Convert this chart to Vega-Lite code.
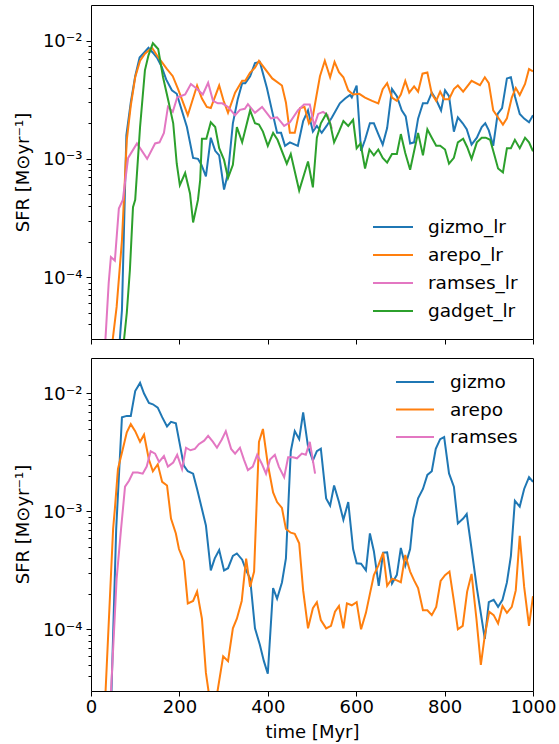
{
"$schema": "https://vega.github.io/schema/vega-lite/v6.json",
"background": "white",
"padding": {"left": 13, "top": 4, "right": 0, "bottom": 0},
"spacing": 12,
"config": {
  "view": {"stroke": "black", "strokeWidth": 1},
  "font": "DejaVu Sans",
  "axis": {"labelFont": "DejaVu Sans", "titleFont": "DejaVu Sans", "labelFontSize": 18, "titleFontSize": 18, "titleFontWeight": "normal", "labelColor": "black", "titleColor": "black", "tickColor": "black", "domain": false, "grid": false, "tickWidth": 1, "labelFlush": false},
  "legend": {"labelFont": "DejaVu Sans", "labelFontSize": 18.5, "labelColor": "black", "symbolType": "stroke", "symbolStrokeWidth": 2, "orient": "none", "padding": 0, "title": null}
},
"resolve": {"scale": {"color": "independent"}},
"vconcat": [
{
  "width": 442, "height": 334,
  "data": {"values": [
{"series":"gizmo_lr","t":60,"sfr":1.6e-5},{"series":"gizmo_lr","t":70,"sfr":5.25e-5},{"series":"gizmo_lr","t":80,"sfr":1.58e-3},{"series":"gizmo_lr","t":90,"sfr":3.0e-3},{"series":"gizmo_lr","t":100,"sfr":5.0e-3},{"series":"gizmo_lr","t":110,"sfr":7.2e-3},{"series":"gizmo_lr","t":120,"sfr":7.9e-3},{"series":"gizmo_lr","t":130,"sfr":8.7e-3},{"series":"gizmo_lr","t":140,"sfr":7.9e-3},{"series":"gizmo_lr","t":150,"sfr":7.1e-3},{"series":"gizmo_lr","t":160,"sfr":6.0e-3},{"series":"gizmo_lr","t":170,"sfr":4.7e-3},{"series":"gizmo_lr","t":183,"sfr":3.8e-3},{"series":"gizmo_lr","t":194,"sfr":3.55e-3},{"series":"gizmo_lr","t":205,"sfr":2.6e-3},{"series":"gizmo_lr","t":217,"sfr":1.86e-3},{"series":"gizmo_lr","t":231,"sfr":1.02e-3},{"series":"gizmo_lr","t":242,"sfr":1.0e-3},{"series":"gizmo_lr","t":250,"sfr":8.9e-4},{"series":"gizmo_lr","t":260,"sfr":7.1e-4},{"series":"gizmo_lr","t":271,"sfr":1.51e-3},{"series":"gizmo_lr","t":281,"sfr":1.17e-3},{"series":"gizmo_lr","t":290,"sfr":1.07e-3},{"series":"gizmo_lr","t":301,"sfr":5.5e-4},{"series":"gizmo_lr","t":310,"sfr":7.6e-4},{"series":"gizmo_lr","t":321,"sfr":2.0e-3},{"series":"gizmo_lr","t":332,"sfr":3.2e-3},{"series":"gizmo_lr","t":342,"sfr":4.37e-3},{"series":"gizmo_lr","t":349,"sfr":4.37e-3},{"series":"gizmo_lr","t":360,"sfr":5.0e-3},{"series":"gizmo_lr","t":371,"sfr":6.46e-3},{"series":"gizmo_lr","t":382,"sfr":6.6e-3},{"series":"gizmo_lr","t":398,"sfr":3.98e-3},{"series":"gizmo_lr","t":410,"sfr":2.51e-3},{"series":"gizmo_lr","t":421,"sfr":1.66e-3},{"series":"gizmo_lr","t":430,"sfr":1.66e-3},{"series":"gizmo_lr","t":439,"sfr":1.29e-3},{"series":"gizmo_lr","t":450,"sfr":1.38e-3},{"series":"gizmo_lr","t":468,"sfr":1.29e-3},{"series":"gizmo_lr","t":480,"sfr":2.09e-3},{"series":"gizmo_lr","t":491,"sfr":2.57e-3},{"series":"gizmo_lr","t":502,"sfr":1.7e-3},{"series":"gizmo_lr","t":511,"sfr":1.9e-3},{"series":"gizmo_lr","t":522,"sfr":1.66e-3},{"series":"gizmo_lr","t":533,"sfr":1.9e-3},{"series":"gizmo_lr","t":545,"sfr":2.24e-3},{"series":"gizmo_lr","t":563,"sfr":2.95e-3},{"series":"gizmo_lr","t":575,"sfr":3.24e-3},{"series":"gizmo_lr","t":586,"sfr":3.47e-3},{"series":"gizmo_lr","t":590,"sfr":3.31e-3},{"series":"gizmo_lr","t":601,"sfr":4.17e-3},{"series":"gizmo_lr","t":611,"sfr":1.17e-3},{"series":"gizmo_lr","t":620,"sfr":1.45e-3},{"series":"gizmo_lr","t":631,"sfr":2.0e-3},{"series":"gizmo_lr","t":640,"sfr":2.0e-3},{"series":"gizmo_lr","t":650,"sfr":1.62e-3},{"series":"gizmo_lr","t":660,"sfr":1.32e-3},{"series":"gizmo_lr","t":670,"sfr":1.82e-3},{"series":"gizmo_lr","t":681,"sfr":3.89e-3},{"series":"gizmo_lr","t":692,"sfr":3.39e-3},{"series":"gizmo_lr","t":703,"sfr":2.57e-3},{"series":"gizmo_lr","t":712,"sfr":2.29e-3},{"series":"gizmo_lr","t":722,"sfr":1.35e-3},{"series":"gizmo_lr","t":731,"sfr":1.38e-3},{"series":"gizmo_lr","t":740,"sfr":2.19e-3},{"series":"gizmo_lr","t":751,"sfr":2.95e-3},{"series":"gizmo_lr","t":761,"sfr":2.95e-3},{"series":"gizmo_lr","t":771,"sfr":3.63e-3},{"series":"gizmo_lr","t":781,"sfr":3.16e-3},{"series":"gizmo_lr","t":792,"sfr":2.57e-3},{"series":"gizmo_lr","t":801,"sfr":3.8e-3},{"series":"gizmo_lr","t":810,"sfr":3.39e-3},{"series":"gizmo_lr","t":821,"sfr":1.7e-3},{"series":"gizmo_lr","t":830,"sfr":2.24e-3},{"series":"gizmo_lr","t":841,"sfr":2.0e-3},{"series":"gizmo_lr","t":850,"sfr":1.78e-3},{"series":"gizmo_lr","t":861,"sfr":1.32e-3},{"series":"gizmo_lr","t":873,"sfr":1.51e-3},{"series":"gizmo_lr","t":884,"sfr":1.86e-3},{"series":"gizmo_lr","t":892,"sfr":2.0e-3},{"series":"gizmo_lr","t":900,"sfr":1.74e-3},{"series":"gizmo_lr","t":910,"sfr":1.29e-3},{"series":"gizmo_lr","t":920,"sfr":2.4e-3},{"series":"gizmo_lr","t":930,"sfr":2.69e-3},{"series":"gizmo_lr","t":941,"sfr":4.79e-3},{"series":"gizmo_lr","t":950,"sfr":4.9e-3},{"series":"gizmo_lr","t":959,"sfr":3.39e-3},{"series":"gizmo_lr","t":970,"sfr":2.4e-3},{"series":"gizmo_lr","t":980,"sfr":2.19e-3},{"series":"gizmo_lr","t":991,"sfr":2.04e-3},{"series":"gizmo_lr","t":1000,"sfr":2.34e-3},
{"series":"arepo_lr","t":40,"sfr":1.6e-5},{"series":"arepo_lr","t":50,"sfr":3.16e-5},{"series":"arepo_lr","t":58,"sfr":5.6e-5},{"series":"arepo_lr","t":70,"sfr":2.04e-4},{"series":"arepo_lr","t":81,"sfr":1.45e-3},{"series":"arepo_lr","t":90,"sfr":2.82e-3},{"series":"arepo_lr","t":100,"sfr":4.9e-3},{"series":"arepo_lr","t":111,"sfr":6.76e-3},{"series":"arepo_lr","t":122,"sfr":7.76e-3},{"series":"arepo_lr","t":138,"sfr":8.7e-3},{"series":"arepo_lr","t":152,"sfr":7.24e-3},{"series":"arepo_lr","t":172,"sfr":5.75e-3},{"series":"arepo_lr","t":185,"sfr":5.0e-3},{"series":"arepo_lr","t":197,"sfr":3.89e-3},{"series":"arepo_lr","t":219,"sfr":2.34e-3},{"series":"arepo_lr","t":240,"sfr":4.17e-3},{"series":"arepo_lr","t":251,"sfr":3.24e-3},{"series":"arepo_lr","t":262,"sfr":2.75e-3},{"series":"arepo_lr","t":271,"sfr":2.69e-3},{"series":"arepo_lr","t":290,"sfr":4.17e-3},{"series":"arepo_lr","t":300,"sfr":3.1e-3},{"series":"arepo_lr","t":310,"sfr":2.45e-3},{"series":"arepo_lr","t":326,"sfr":3.63e-3},{"series":"arepo_lr","t":342,"sfr":4.57e-3},{"series":"arepo_lr","t":349,"sfr":4.57e-3},{"series":"arepo_lr","t":360,"sfr":5.37e-3},{"series":"arepo_lr","t":371,"sfr":5.9e-3},{"series":"arepo_lr","t":380,"sfr":6.76e-3},{"series":"arepo_lr","t":386,"sfr":6.3e-3},{"series":"arepo_lr","t":410,"sfr":4.79e-3},{"series":"arepo_lr","t":432,"sfr":4.17e-3},{"series":"arepo_lr","t":441,"sfr":3.0e-3},{"series":"arepo_lr","t":450,"sfr":1.66e-3},{"series":"arepo_lr","t":461,"sfr":1.66e-3},{"series":"arepo_lr","t":473,"sfr":2.69e-3},{"series":"arepo_lr","t":483,"sfr":2.75e-3},{"series":"arepo_lr","t":493,"sfr":2.0e-3},{"series":"arepo_lr","t":502,"sfr":2.3e-3},{"series":"arepo_lr","t":510,"sfr":3.4e-3},{"series":"arepo_lr","t":518,"sfr":5.0e-3},{"series":"arepo_lr","t":529,"sfr":6.76e-3},{"series":"arepo_lr","t":541,"sfr":4.9e-3},{"series":"arepo_lr","t":551,"sfr":6.6e-3},{"series":"arepo_lr","t":561,"sfr":5.4e-3},{"series":"arepo_lr","t":571,"sfr":4.9e-3},{"series":"arepo_lr","t":582,"sfr":3.8e-3},{"series":"arepo_lr","t":593,"sfr":3.5e-3},{"series":"arepo_lr","t":607,"sfr":3.55e-3},{"series":"arepo_lr","t":620,"sfr":3.3e-3},{"series":"arepo_lr","t":636,"sfr":3.09e-3},{"series":"arepo_lr","t":650,"sfr":2.95e-3},{"series":"arepo_lr","t":660,"sfr":3.89e-3},{"series":"arepo_lr","t":670,"sfr":4.37e-3},{"series":"arepo_lr","t":681,"sfr":3.3e-3},{"series":"arepo_lr","t":692,"sfr":3.09e-3},{"series":"arepo_lr","t":701,"sfr":3.5e-3},{"series":"arepo_lr","t":711,"sfr":4.57e-3},{"series":"arepo_lr","t":720,"sfr":3.63e-3},{"series":"arepo_lr","t":731,"sfr":4.1e-3},{"series":"arepo_lr","t":740,"sfr":3.7e-3},{"series":"arepo_lr","t":750,"sfr":5.25e-3},{"series":"arepo_lr","t":761,"sfr":5.37e-3},{"series":"arepo_lr","t":771,"sfr":3.55e-3},{"series":"arepo_lr","t":781,"sfr":3.09e-3},{"series":"arepo_lr","t":790,"sfr":3.7e-3},{"series":"arepo_lr","t":799,"sfr":3.2e-3},{"series":"arepo_lr","t":810,"sfr":3.2e-3},{"series":"arepo_lr","t":821,"sfr":3.89e-3},{"series":"arepo_lr","t":830,"sfr":4.17e-3},{"series":"arepo_lr","t":842,"sfr":3.7e-3},{"series":"arepo_lr","t":861,"sfr":4.57e-3},{"series":"arepo_lr","t":880,"sfr":4.2e-3},{"series":"arepo_lr","t":891,"sfr":4.9e-3},{"series":"arepo_lr","t":900,"sfr":4.37e-3},{"series":"arepo_lr","t":910,"sfr":2.57e-3},{"series":"arepo_lr","t":921,"sfr":2.24e-3},{"series":"arepo_lr","t":932,"sfr":1.95e-3},{"series":"arepo_lr","t":941,"sfr":2.2e-3},{"series":"arepo_lr","t":952,"sfr":3.3e-3},{"series":"arepo_lr","t":961,"sfr":3.98e-3},{"series":"arepo_lr","t":970,"sfr":3.47e-3},{"series":"arepo_lr","t":982,"sfr":4.3e-3},{"series":"arepo_lr","t":991,"sfr":5.75e-3},{"series":"arepo_lr","t":1000,"sfr":5.5e-3},
{"series":"ramses_lr","t":30,"sfr":2e-5},{"series":"ramses_lr","t":40,"sfr":8.9e-5},{"series":"ramses_lr","t":45,"sfr":1.48e-4},{"series":"ramses_lr","t":54,"sfr":1.38e-4},{"series":"ramses_lr","t":63,"sfr":3.8e-4},{"series":"ramses_lr","t":72,"sfr":4.5e-4},{"series":"ramses_lr","t":84,"sfr":1.02e-3},{"series":"ramses_lr","t":104,"sfr":1.35e-3},{"series":"ramses_lr","t":127,"sfr":1.0e-3},{"series":"ramses_lr","t":145,"sfr":1.35e-3},{"series":"ramses_lr","t":155,"sfr":1.38e-3},{"series":"ramses_lr","t":165,"sfr":1.66e-3},{"series":"ramses_lr","t":174,"sfr":2.75e-3},{"series":"ramses_lr","t":185,"sfr":2.5e-3},{"series":"ramses_lr","t":195,"sfr":3.3e-3},{"series":"ramses_lr","t":213,"sfr":3.5e-3},{"series":"ramses_lr","t":226,"sfr":4.3e-3},{"series":"ramses_lr","t":240,"sfr":3.9e-3},{"series":"ramses_lr","t":253,"sfr":3.5e-3},{"series":"ramses_lr","t":265,"sfr":4.4e-3},{"series":"ramses_lr","t":276,"sfr":3.1e-3},{"series":"ramses_lr","t":287,"sfr":2.95e-3},{"series":"ramses_lr","t":297,"sfr":2.95e-3},{"series":"ramses_lr","t":310,"sfr":2.75e-3},{"series":"ramses_lr","t":326,"sfr":2.34e-3},{"series":"ramses_lr","t":337,"sfr":2.6e-3},{"series":"ramses_lr","t":348,"sfr":2.65e-3},{"series":"ramses_lr","t":355,"sfr":2.9e-3},{"series":"ramses_lr","t":371,"sfr":2.45e-3},{"series":"ramses_lr","t":387,"sfr":2.75e-3},{"series":"ramses_lr","t":407,"sfr":2.2e-3},{"series":"ramses_lr","t":421,"sfr":2.25e-3},{"series":"ramses_lr","t":437,"sfr":1.9e-3},{"series":"ramses_lr","t":450,"sfr":2.04e-3},{"series":"ramses_lr","t":468,"sfr":2.57e-3},{"series":"ramses_lr","t":482,"sfr":2.88e-3},{"series":"ramses_lr","t":495,"sfr":2.88e-3},{"series":"ramses_lr","t":505,"sfr":1.9e-3},{"series":"ramses_lr","t":514,"sfr":2.4e-3},{"series":"ramses_lr","t":525,"sfr":2.5e-3},{"series":"ramses_lr","t":535,"sfr":2.35e-3},{"series":"ramses_lr","t":545,"sfr":1.8e-3},
{"series":"gadget_lr","t":70,"sfr":2e-5},{"series":"gadget_lr","t":81,"sfr":5.0e-5},{"series":"gadget_lr","t":88,"sfr":1.15e-4},{"series":"gadget_lr","t":95,"sfr":3.9e-4},{"series":"gadget_lr","t":100,"sfr":4.5e-4},{"series":"gadget_lr","t":111,"sfr":1.86e-3},{"series":"gadget_lr","t":122,"sfr":5.6e-3},{"series":"gadget_lr","t":130,"sfr":7.5e-3},{"series":"gadget_lr","t":140,"sfr":9.5e-3},{"series":"gadget_lr","t":152,"sfr":8.5e-3},{"series":"gadget_lr","t":163,"sfr":4.9e-3},{"series":"gadget_lr","t":175,"sfr":3.1e-3},{"series":"gadget_lr","t":186,"sfr":2.0e-3},{"series":"gadget_lr","t":194,"sfr":9.1e-4},{"series":"gadget_lr","t":201,"sfr":6.0e-4},{"series":"gadget_lr","t":213,"sfr":7.6e-4},{"series":"gadget_lr","t":224,"sfr":5.1e-4},{"series":"gadget_lr","t":231,"sfr":2.9e-4},{"series":"gadget_lr","t":242,"sfr":4.5e-4},{"series":"gadget_lr","t":247,"sfr":6.6e-4},{"series":"gadget_lr","t":251,"sfr":1.48e-3},{"series":"gadget_lr","t":261,"sfr":1.48e-3},{"series":"gadget_lr","t":271,"sfr":2.04e-3},{"series":"gadget_lr","t":281,"sfr":1.86e-3},{"series":"gadget_lr","t":290,"sfr":1.23e-3},{"series":"gadget_lr","t":301,"sfr":9.8e-4},{"series":"gadget_lr","t":310,"sfr":6.9e-4},{"series":"gadget_lr","t":321,"sfr":8.9e-4},{"series":"gadget_lr","t":330,"sfr":1.86e-3},{"series":"gadget_lr","t":342,"sfr":1.38e-3},{"series":"gadget_lr","t":360,"sfr":2.57e-3},{"series":"gadget_lr","t":371,"sfr":2.0e-3},{"series":"gadget_lr","t":380,"sfr":1.95e-3},{"series":"gadget_lr","t":389,"sfr":1.7e-3},{"series":"gadget_lr","t":400,"sfr":1.29e-3},{"series":"gadget_lr","t":412,"sfr":1.66e-3},{"series":"gadget_lr","t":422,"sfr":1.45e-3},{"series":"gadget_lr","t":443,"sfr":9.1e-4},{"series":"gadget_lr","t":452,"sfr":1.1e-3},{"series":"gadget_lr","t":471,"sfr":5.4e-4},{"series":"gadget_lr","t":491,"sfr":9.5e-4},{"series":"gadget_lr","t":502,"sfr":5.75e-4},{"series":"gadget_lr","t":511,"sfr":1.51e-3},{"series":"gadget_lr","t":520,"sfr":2.0e-3},{"series":"gadget_lr","t":532,"sfr":2.4e-3},{"series":"gadget_lr","t":541,"sfr":2.0e-3},{"series":"gadget_lr","t":550,"sfr":1.38e-3},{"series":"gadget_lr","t":561,"sfr":1.7e-3},{"series":"gadget_lr","t":571,"sfr":2.09e-3},{"series":"gadget_lr","t":582,"sfr":1.9e-3},{"series":"gadget_lr","t":593,"sfr":2.14e-3},{"series":"gadget_lr","t":601,"sfr":1.23e-3},{"series":"gadget_lr","t":610,"sfr":1.35e-3},{"series":"gadget_lr","t":620,"sfr":8.3e-4},{"series":"gadget_lr","t":630,"sfr":1.2e-3},{"series":"gadget_lr","t":640,"sfr":1.07e-3},{"series":"gadget_lr","t":650,"sfr":1.2e-3},{"series":"gadget_lr","t":660,"sfr":1.02e-3},{"series":"gadget_lr","t":670,"sfr":9.3e-4},{"series":"gadget_lr","t":681,"sfr":1.1e-3},{"series":"gadget_lr","t":692,"sfr":1.1e-3},{"series":"gadget_lr","t":701,"sfr":1.62e-3},{"series":"gadget_lr","t":711,"sfr":1.12e-3},{"series":"gadget_lr","t":722,"sfr":8.1e-4},{"series":"gadget_lr","t":733,"sfr":1.26e-3},{"series":"gadget_lr","t":740,"sfr":1.66e-3},{"series":"gadget_lr","t":751,"sfr":1.07e-3},{"series":"gadget_lr","t":761,"sfr":1.78e-3},{"series":"gadget_lr","t":771,"sfr":1.51e-3},{"series":"gadget_lr","t":781,"sfr":1.29e-3},{"series":"gadget_lr","t":790,"sfr":1.29e-3},{"series":"gadget_lr","t":801,"sfr":1.2e-3},{"series":"gadget_lr","t":810,"sfr":9.1e-4},{"series":"gadget_lr","t":821,"sfr":1.02e-3},{"series":"gadget_lr","t":830,"sfr":1.38e-3},{"series":"gadget_lr","t":842,"sfr":1.48e-3},{"series":"gadget_lr","t":851,"sfr":1.26e-3},{"series":"gadget_lr","t":861,"sfr":1.0e-3},{"series":"gadget_lr","t":873,"sfr":1.38e-3},{"series":"gadget_lr","t":884,"sfr":1.51e-3},{"series":"gadget_lr","t":893,"sfr":1.51e-3},{"series":"gadget_lr","t":903,"sfr":1.45e-3},{"series":"gadget_lr","t":912,"sfr":1.1e-3},{"series":"gadget_lr","t":921,"sfr":8.3e-4},{"series":"gadget_lr","t":932,"sfr":7.7e-4},{"series":"gadget_lr","t":941,"sfr":1.23e-3},{"series":"gadget_lr","t":950,"sfr":1.23e-3},{"series":"gadget_lr","t":959,"sfr":1.45e-3},{"series":"gadget_lr","t":970,"sfr":1.23e-3},{"series":"gadget_lr","t":982,"sfr":1.51e-3},{"series":"gadget_lr","t":991,"sfr":1.38e-3},{"series":"gadget_lr","t":1000,"sfr":1.16e-3}
  ]},
  "mark": {"type": "line", "strokeWidth": 2, "clip": true},
  "encoding": {
    "x": {"field": "t", "type": "quantitative", "scale": {"domain": [0, 1000], "nice": false},
      "axis": {"values": [0, 200, 400, 600, 800, 1000], "labels": false, "title": null, "tickSize": 5}},
    "y": {"field": "sfr", "type": "quantitative", "scale": {"type": "log", "domain": [3e-5, 0.02], "nice": false},
      "axis": {"values": [4e-5,5e-5,6e-5,7e-5,8e-5,9e-5,1e-4,2e-4,3e-4,4e-4,5e-4,6e-4,7e-4,8e-4,9e-4,1e-3,2e-3,3e-3,4e-3,5e-3,6e-3,7e-3,8e-3,9e-3,1e-2],
        "labelExpr": "datum.value === 0.01 ? '10⁻²' : datum.value === 0.001 ? '10⁻³' : datum.value === 0.0001 ? '10⁻⁴' : ''",
        "tickSize": {"condition": {"test": "datum.value === 0.01 || datum.value === 0.001 || datum.value === 0.0001", "value": 5}, "value": 3},
        "labelPadding": 4, "labelOffset": 1,
        "title": "SFR [M⊙yr⁻¹]", "titleX": -63, "titleY": 167, "titleBaseline": "alphabetic", "titleAlign": "center", "titleAngle": -90}},
    "color": {"field": "series", "type": "nominal",
      "scale": {"domain": ["gizmo_lr", "arepo_lr", "ramses_lr", "gadget_lr"], "range": ["#1f77b4", "#ff7f0e", "#e377c2", "#2ca02c"]},
      "legend": {"legendX": 281, "legendY": 212, "symbolSize": 1600, "labelOffset": 14, "clipHeight": 20, "rowPadding": 8}}
  }
},
{
  "width": 442, "height": 333,
  "data": {"values": [
{"series":"gizmo","t":45,"sfr":2e-5},{"series":"gizmo","t":57,"sfr":7.1e-4},{"series":"gizmo","t":70,"sfr":6.3e-3},{"series":"gizmo","t":81,"sfr":6.46e-3},{"series":"gizmo","t":90,"sfr":6.46e-3},{"series":"gizmo","t":100,"sfr":1.05e-2},{"series":"gizmo","t":111,"sfr":1.23e-2},{"series":"gizmo","t":120,"sfr":1.0e-2},{"series":"gizmo","t":131,"sfr":8.3e-3},{"series":"gizmo","t":140,"sfr":8.1e-3},{"series":"gizmo","t":151,"sfr":7.6e-3},{"series":"gizmo","t":161,"sfr":6.3e-3},{"series":"gizmo","t":172,"sfr":5.25e-3},{"series":"gizmo","t":181,"sfr":5.75e-3},{"series":"gizmo","t":192,"sfr":5.6e-3},{"series":"gizmo","t":201,"sfr":3.7e-3},{"series":"gizmo","t":210,"sfr":2.45e-3},{"series":"gizmo","t":219,"sfr":2.19e-3},{"series":"gizmo","t":231,"sfr":2.09e-3},{"series":"gizmo","t":240,"sfr":1.55e-3},{"series":"gizmo","t":251,"sfr":1.05e-3},{"series":"gizmo","t":260,"sfr":7.6e-4},{"series":"gizmo","t":271,"sfr":3.16e-4},{"series":"gizmo","t":280,"sfr":4.0e-4},{"series":"gizmo","t":290,"sfr":4.7e-4},{"series":"gizmo","t":301,"sfr":3.16e-4},{"series":"gizmo","t":310,"sfr":3.3e-4},{"series":"gizmo","t":321,"sfr":4.2e-4},{"series":"gizmo","t":330,"sfr":4.4e-4},{"series":"gizmo","t":342,"sfr":3.9e-4},{"series":"gizmo","t":351,"sfr":3.16e-4},{"series":"gizmo","t":360,"sfr":2.7e-4},{"series":"gizmo","t":371,"sfr":1.02e-4},{"series":"gizmo","t":382,"sfr":7.4e-5},{"series":"gizmo","t":391,"sfr":5.4e-5},{"series":"gizmo","t":400,"sfr":4.2e-5},{"series":"gizmo","t":412,"sfr":2.24e-4},{"series":"gizmo","t":421,"sfr":1.82e-4},{"series":"gizmo","t":432,"sfr":2.5e-4},{"series":"gizmo","t":441,"sfr":4.0e-4},{"series":"gizmo","t":452,"sfr":3.24e-3},{"series":"gizmo","t":461,"sfr":4.8e-3},{"series":"gizmo","t":471,"sfr":4.1e-3},{"series":"gizmo","t":480,"sfr":6.9e-3},{"series":"gizmo","t":491,"sfr":3.55e-3},{"series":"gizmo","t":502,"sfr":2.7e-3},{"series":"gizmo","t":511,"sfr":3.24e-3},{"series":"gizmo","t":520,"sfr":3.4e-3},{"series":"gizmo","t":532,"sfr":1.29e-3},{"series":"gizmo","t":541,"sfr":1.12e-3},{"series":"gizmo","t":550,"sfr":1.66e-3},{"series":"gizmo","t":561,"sfr":1.2e-3},{"series":"gizmo","t":571,"sfr":8.5e-4},{"series":"gizmo","t":582,"sfr":1.2e-3},{"series":"gizmo","t":593,"sfr":4.8e-4},{"series":"gizmo","t":601,"sfr":3.63e-4},{"series":"gizmo","t":611,"sfr":3.6e-4},{"series":"gizmo","t":622,"sfr":3.16e-4},{"series":"gizmo","t":631,"sfr":6.5e-4},{"series":"gizmo","t":640,"sfr":4.6e-4},{"series":"gizmo","t":651,"sfr":2.34e-4},{"series":"gizmo","t":661,"sfr":4.47e-4},{"series":"gizmo","t":670,"sfr":4.5e-4},{"series":"gizmo","t":681,"sfr":2.45e-4},{"series":"gizmo","t":692,"sfr":2.9e-4},{"series":"gizmo","t":701,"sfr":4.9e-4},{"series":"gizmo","t":711,"sfr":3.47e-4},{"series":"gizmo","t":722,"sfr":4.8e-4},{"series":"gizmo","t":729,"sfr":8.7e-4},{"series":"gizmo","t":740,"sfr":1.29e-3},{"series":"gizmo","t":751,"sfr":1.55e-3},{"series":"gizmo","t":761,"sfr":2.04e-3},{"series":"gizmo","t":771,"sfr":2.19e-3},{"series":"gizmo","t":780,"sfr":3.4e-3},{"series":"gizmo","t":790,"sfr":4.1e-3},{"series":"gizmo","t":799,"sfr":4.27e-3},{"series":"gizmo","t":810,"sfr":2.1e-3},{"series":"gizmo","t":821,"sfr":1.62e-3},{"series":"gizmo","t":830,"sfr":7.9e-4},{"series":"gizmo","t":842,"sfr":8.7e-4},{"series":"gizmo","t":850,"sfr":9.5e-4},{"series":"gizmo","t":861,"sfr":4.8e-4},{"series":"gizmo","t":873,"sfr":2.24e-4},{"series":"gizmo","t":891,"sfr":8.3e-5},{"series":"gizmo","t":900,"sfr":1.7e-4},{"series":"gizmo","t":911,"sfr":1.78e-4},{"series":"gizmo","t":921,"sfr":1.55e-4},{"series":"gizmo","t":931,"sfr":1.78e-4},{"series":"gizmo","t":941,"sfr":2.5e-4},{"series":"gizmo","t":950,"sfr":4.2e-4},{"series":"gizmo","t":959,"sfr":1.23e-3},{"series":"gizmo","t":970,"sfr":1.1e-3},{"series":"gizmo","t":980,"sfr":1.55e-3},{"series":"gizmo","t":991,"sfr":1.95e-3},{"series":"gizmo","t":1000,"sfr":1.78e-3},
{"series":"arepo","t":32,"sfr":2.5e-5},{"series":"arepo","t":50,"sfr":7.1e-4},{"series":"arepo","t":54,"sfr":1.05e-3},{"series":"arepo","t":61,"sfr":2.29e-3},{"series":"arepo","t":72,"sfr":3.39e-3},{"series":"arepo","t":81,"sfr":4.68e-3},{"series":"arepo","t":90,"sfr":5.5e-3},{"series":"arepo","t":100,"sfr":4.79e-3},{"series":"arepo","t":111,"sfr":3.89e-3},{"series":"arepo","t":120,"sfr":4.47e-3},{"series":"arepo","t":131,"sfr":2.75e-3},{"series":"arepo","t":140,"sfr":2.19e-3},{"series":"arepo","t":151,"sfr":2.51e-3},{"series":"arepo","t":161,"sfr":1.78e-3},{"series":"arepo","t":172,"sfr":1.66e-3},{"series":"arepo","t":181,"sfr":8.7e-4},{"series":"arepo","t":192,"sfr":6.5e-4},{"series":"arepo","t":199,"sfr":4.8e-4},{"series":"arepo","t":210,"sfr":3.8e-4},{"series":"arepo","t":219,"sfr":1.66e-4},{"series":"arepo","t":231,"sfr":1.74e-4},{"series":"arepo","t":240,"sfr":2.09e-4},{"series":"arepo","t":251,"sfr":1.23e-4},{"series":"arepo","t":260,"sfr":4.27e-5},{"series":"arepo","t":267,"sfr":2.8e-5},{"series":"arepo","t":276,"sfr":1.5e-5},{"series":"arepo","t":285,"sfr":2.8e-5},{"series":"arepo","t":299,"sfr":5.9e-5},{"series":"arepo","t":310,"sfr":5.37e-5},{"series":"arepo","t":321,"sfr":1.02e-4},{"series":"arepo","t":330,"sfr":1.23e-4},{"series":"arepo","t":341,"sfr":1.74e-4},{"series":"arepo","t":351,"sfr":3.98e-4},{"series":"arepo","t":360,"sfr":2.29e-4},{"series":"arepo","t":369,"sfr":3.09e-4},{"series":"arepo","t":380,"sfr":3.89e-3},{"series":"arepo","t":389,"sfr":5.0e-3},{"series":"arepo","t":400,"sfr":2.51e-3},{"series":"arepo","t":412,"sfr":1.45e-3},{"series":"arepo","t":421,"sfr":1.2e-3},{"series":"arepo","t":432,"sfr":1.07e-3},{"series":"arepo","t":441,"sfr":7.1e-4},{"series":"arepo","t":452,"sfr":6.6e-4},{"series":"arepo","t":461,"sfr":6.46e-4},{"series":"arepo","t":471,"sfr":5.37e-4},{"series":"arepo","t":480,"sfr":2.14e-4},{"series":"arepo","t":491,"sfr":1.02e-4},{"series":"arepo","t":502,"sfr":1.51e-4},{"series":"arepo","t":511,"sfr":1.7e-4},{"series":"arepo","t":520,"sfr":1.2e-4},{"series":"arepo","t":532,"sfr":1.02e-4},{"series":"arepo","t":543,"sfr":1.07e-4},{"series":"arepo","t":552,"sfr":1.41e-4},{"series":"arepo","t":561,"sfr":1.58e-4},{"series":"arepo","t":571,"sfr":1.02e-4},{"series":"arepo","t":579,"sfr":1.66e-4},{"series":"arepo","t":590,"sfr":1.6e-4},{"series":"arepo","t":601,"sfr":1.7e-4},{"series":"arepo","t":611,"sfr":1.0e-4},{"series":"arepo","t":622,"sfr":1.38e-4},{"series":"arepo","t":631,"sfr":2.0e-4},{"series":"arepo","t":640,"sfr":2.88e-4},{"series":"arepo","t":650,"sfr":3.47e-4},{"series":"arepo","t":661,"sfr":4.47e-4},{"series":"arepo","t":670,"sfr":2.34e-4},{"series":"arepo","t":681,"sfr":2.69e-4},{"series":"arepo","t":692,"sfr":2.6e-4},{"series":"arepo","t":701,"sfr":2.51e-4},{"series":"arepo","t":711,"sfr":4.27e-4},{"series":"arepo","t":722,"sfr":3.09e-4},{"series":"arepo","t":731,"sfr":2.6e-4},{"series":"arepo","t":740,"sfr":2.24e-4},{"series":"arepo","t":751,"sfr":1.45e-4},{"series":"arepo","t":761,"sfr":1.45e-4},{"series":"arepo","t":771,"sfr":1.32e-4},{"series":"arepo","t":781,"sfr":1.55e-4},{"series":"arepo","t":791,"sfr":2.57e-4},{"series":"arepo","t":801,"sfr":2.88e-4},{"series":"arepo","t":811,"sfr":3.09e-4},{"series":"arepo","t":821,"sfr":1.74e-4},{"series":"arepo","t":830,"sfr":1.0e-4},{"series":"arepo","t":841,"sfr":1.07e-4},{"series":"arepo","t":851,"sfr":2.09e-4},{"series":"arepo","t":861,"sfr":2.95e-4},{"series":"arepo","t":872,"sfr":1.23e-4},{"series":"arepo","t":882,"sfr":5.0e-5},{"series":"arepo","t":891,"sfr":8.9e-5},{"series":"arepo","t":901,"sfr":1.41e-4},{"series":"arepo","t":911,"sfr":1.32e-4},{"series":"arepo","t":921,"sfr":1.12e-4},{"series":"arepo","t":931,"sfr":1.58e-4},{"series":"arepo","t":941,"sfr":1.38e-4},{"series":"arepo","t":952,"sfr":1.55e-4},{"series":"arepo","t":961,"sfr":2.14e-4},{"series":"arepo","t":970,"sfr":6.2e-4},{"series":"arepo","t":980,"sfr":2.29e-4},{"series":"arepo","t":991,"sfr":1.07e-4},{"series":"arepo","t":1000,"sfr":1.91e-4},
{"series":"ramses","t":43,"sfr":2e-5},{"series":"ramses","t":58,"sfr":2.69e-4},{"series":"ramses","t":68,"sfr":7.1e-4},{"series":"ramses","t":77,"sfr":1.62e-3},{"series":"ramses","t":86,"sfr":1.82e-3},{"series":"ramses","t":95,"sfr":2.14e-3},{"series":"ramses","t":106,"sfr":2.14e-3},{"series":"ramses","t":117,"sfr":2.09e-3},{"series":"ramses","t":126,"sfr":2.4e-3},{"series":"ramses","t":135,"sfr":3.24e-3},{"series":"ramses","t":145,"sfr":3.09e-3},{"series":"ramses","t":154,"sfr":2.63e-3},{"series":"ramses","t":165,"sfr":2.95e-3},{"series":"ramses","t":174,"sfr":2.4e-3},{"series":"ramses","t":186,"sfr":2.6e-3},{"series":"ramses","t":195,"sfr":3.02e-3},{"series":"ramses","t":206,"sfr":2.29e-3},{"series":"ramses","t":215,"sfr":3.47e-3},{"series":"ramses","t":225,"sfr":3.3e-3},{"series":"ramses","t":235,"sfr":3.39e-3},{"series":"ramses","t":244,"sfr":3.72e-3},{"series":"ramses","t":256,"sfr":3.98e-3},{"series":"ramses","t":265,"sfr":4.37e-3},{"series":"ramses","t":276,"sfr":3.89e-3},{"series":"ramses","t":285,"sfr":3.47e-3},{"series":"ramses","t":296,"sfr":4.07e-3},{"series":"ramses","t":305,"sfr":4.79e-3},{"series":"ramses","t":317,"sfr":3.39e-3},{"series":"ramses","t":326,"sfr":3.09e-3},{"series":"ramses","t":337,"sfr":3.47e-3},{"series":"ramses","t":346,"sfr":2.75e-3},{"series":"ramses","t":355,"sfr":2.24e-3},{"series":"ramses","t":366,"sfr":2.4e-3},{"series":"ramses","t":376,"sfr":3.02e-3},{"series":"ramses","t":387,"sfr":2.51e-3},{"series":"ramses","t":396,"sfr":2.09e-3},{"series":"ramses","t":405,"sfr":2.75e-3},{"series":"ramses","t":416,"sfr":3.02e-3},{"series":"ramses","t":425,"sfr":2.4e-3},{"series":"ramses","t":437,"sfr":1.95e-3},{"series":"ramses","t":446,"sfr":2.88e-3},{"series":"ramses","t":457,"sfr":2.88e-3},{"series":"ramses","t":466,"sfr":2.82e-3},{"series":"ramses","t":477,"sfr":3.09e-3},{"series":"ramses","t":486,"sfr":3.02e-3},{"series":"ramses","t":495,"sfr":3.89e-3},{"series":"ramses","t":507,"sfr":2.09e-3}
  ]},
  "mark": {"type": "line", "strokeWidth": 2, "clip": true},
  "encoding": {
    "x": {"field": "t", "type": "quantitative", "scale": {"domain": [0, 1000], "nice": false},
      "axis": {"values": [0, 200, 400, 600, 800, 1000], "format": "d", "tickSize": 5, "labelPadding": 2, "title": "time [Myr]", "titleX": 221, "titleY": 46, "titleBaseline": "alphabetic", "titleAlign": "center"}},
    "y": {"field": "sfr", "type": "quantitative", "scale": {"type": "log", "domain": [3e-5, 0.02], "nice": false},
      "axis": {"values": [4e-5,5e-5,6e-5,7e-5,8e-5,9e-5,1e-4,2e-4,3e-4,4e-4,5e-4,6e-4,7e-4,8e-4,9e-4,1e-3,2e-3,3e-3,4e-3,5e-3,6e-3,7e-3,8e-3,9e-3,1e-2],
        "labelExpr": "datum.value === 0.01 ? '10⁻²' : datum.value === 0.001 ? '10⁻³' : datum.value === 0.0001 ? '10⁻⁴' : ''",
        "tickSize": {"condition": {"test": "datum.value === 0.01 || datum.value === 0.001 || datum.value === 0.0001", "value": 5}, "value": 3},
        "labelPadding": 4, "labelOffset": 1,
        "title": "SFR [M⊙yr⁻¹]", "titleX": -63, "titleY": 166, "titleBaseline": "alphabetic", "titleAlign": "center", "titleAngle": -90}},
    "color": {"field": "series", "type": "nominal",
      "scale": {"domain": ["gizmo", "arepo", "ramses"], "range": ["#1f77b4", "#ff7f0e", "#e377c2"]},
      "legend": {"legendX": 304, "legendY": 14, "symbolSize": 1444, "labelOffset": 15, "clipHeight": 20, "rowPadding": 7.5}}
  }
}
]
}
